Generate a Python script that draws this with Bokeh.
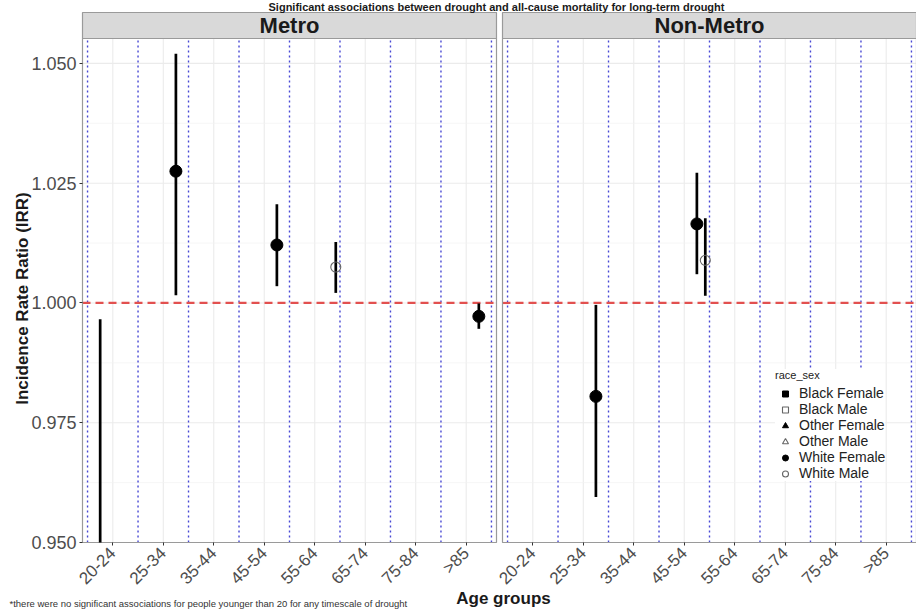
import math
from bokeh.plotting import figure
from bokeh.models import (Range1d, FixedTicker, NumeralTickFormatter, CustomJSTickFormatter,
                          Label, Legend, LegendItem, ColumnDataSource)
from bokeh.embed import file_html
from bokeh.resources import INLINE

# ---------------- data ----------------
age_groups = ["20-24", "25-34", "35-44", "45-54", "55-64", "65-74", "75-84", ">85"]
regions = ["Metro", "Non-Metro"]
race_sex_levels = ["Black Female", "Black Male", "Other Female", "Other Male",
                   "White Female", "White Male"]

pt_region = ["Metro", "Metro", "Metro", "Metro", "Metro",
             "Non-Metro", "Non-Metro", "Non-Metro"]
pt_age = ["20-24", "25-34", "45-54", "55-64", ">85",
          "25-34", "45-54", "45-54"]
pt_group = ["Black Male", "White Female", "White Female", "White Male", "White Female",
            "White Female", "White Female", "White Male"]
pt_irr = [0.935, 1.0275, 1.0121, 1.0075, 0.9972, 0.9805, 1.0165, 1.0089]
pt_lower = [0.875, 1.0016, 1.0035, 1.0021, 0.9946, 0.9595, 1.0060, 1.0015]
pt_upper = [0.9966, 1.0520, 1.0206, 1.0127, 0.9999, 0.9996, 1.0272, 1.0177]

y_ticks = [0.950, 0.975, 1.000, 1.025, 1.050]
ref_line = 1.0

title_text = "Significant associations between drought and all-cause mortality for long-term drought"
footnote_text = "*there were no significant associations for people younger than 20 for any timescale of drought"
x_title = "Age groups"
y_title = "Incidence Rate Ratio (IRR)"
legend_title = "race_sex"

# ---------------- layout (pixels of the 916 x 611 canvas) ----------------
W, H = 916, 611
PANEL_LEFT = 82
PANEL_TOP, PANEL_BOTTOM = 38, 542
STRIP_TOP = 12
GAP_PX = 6

n_cat = len(age_groups)
x_lo = 0.4
span = n_cat + 0.2
px_per_unit = (W - PANEL_LEFT - GAP_PX) / (2 * span)
gap_u = GAP_PX / px_per_unit
offsets = [0.0, span + gap_u]
x_hi = x_lo + 2 * span + gap_u
x_min = x_lo - PANEL_LEFT / px_per_unit


def px_x(px):
    return x_min + px / px_per_unit


y_lo = 0.950
y_panel_top = 1.0552
y_per_px = (y_panel_top - y_lo) / (PANEL_BOTTOM - PANEL_TOP)
y_min = y_lo - (H - PANEL_BOTTOM) * y_per_px
y_max = y_panel_top + PANEL_TOP * y_per_px


def px_y(py):
    return y_max - py * y_per_px


y_strip_top = px_y(STRIP_TOP)

dodge_w = 1.0
n_grp = len(race_sex_levels)

FONT = "Liberation Sans"

p = figure(width=W, height=H, x_range=Range1d(x_min, x_hi), y_range=Range1d(y_min, y_max),
           min_border=0, output_backend="svg", toolbar_location=None)
p.outline_line_color = None
p.xgrid.visible = False
p.ygrid.visible = False

minor_y = [(a + b) / 2 for a, b in zip(y_ticks[:-1], y_ticks[1:])]

for off, reg in zip(offsets, regions):
    left, right = x_lo + off, x_lo + span + off
    # grid
    cx = [i + 1 + off for i in range(n_cat)]
    p.segment(x0=cx, y0=[y_lo] * n_cat, x1=cx, y1=[y_panel_top] * n_cat,
              line_color="#ebebeb", line_width=1.1)
    p.segment(x0=[left] * len(minor_y), y0=minor_y, x1=[right] * len(minor_y), y1=minor_y,
              line_color="#f2f2f2", line_width=0.7)
    p.segment(x0=[left] * len(y_ticks), y0=y_ticks, x1=[right] * len(y_ticks), y1=y_ticks,
              line_color="#ebebeb", line_width=1.1)
    # blue dotted separators
    bx = [i + 0.5 + off for i in range(n_cat + 1)]
    p.segment(x0=bx, y0=[y_lo] * len(bx), x1=bx, y1=[y_panel_top] * len(bx),
              line_color="#4848d4", line_width=1.4, line_dash="2 3")
    # reference line
    p.segment(x0=[left], y0=[ref_line], x1=[right], y1=[ref_line],
              line_color="#e2504f", line_width=2.2, line_dash="8 5")
    # panel border and strip
    p.quad(left=[left], right=[right], bottom=[y_lo], top=[y_panel_top],
           fill_color=None, line_color="#9a9a9a", line_width=1.2)
    p.quad(left=[left], right=[right], bottom=[y_panel_top], top=[y_strip_top],
           fill_color="#d9d9d9", line_color="#9a9a9a", line_width=1.2)
    p.add_layout(Label(x=(left + right) / 2, y=(y_panel_top + y_strip_top) / 2, text=reg,
                       text_align="center", text_baseline="middle",
                       text_font=FONT, text_font_style="bold",
                       text_font_size="22px", text_color="#1a1a1a"))

# positions of points (dodged by race_sex)
xs = []
for reg, age, grp in zip(pt_region, pt_age, pt_group):
    k = race_sex_levels.index(grp)
    base = age_groups.index(age) + 1 + offsets[regions.index(reg)]
    xs.append(base + (k - (n_grp - 1) / 2) * dodge_w / n_grp)

# ranges are clipped to the panel limits (as coord_cartesian does)
seg_lo = [max(v, y_lo) for v in pt_lower]
seg_hi = [min(v, y_panel_top) for v in pt_upper]
p.segment(x0=xs, y0=seg_lo, x1=xs, y1=seg_hi, line_color="black", line_width=2.7)

marker_spec = {
    "Black Female": ("square", True),
    "Black Male": ("square", False),
    "Other Female": ("triangle", True),
    "Other Male": ("triangle", False),
    "White Female": ("circle", True),
    "White Male": ("circle", False),
}

items = []
for grp in race_sex_levels:
    idx = [i for i, g in enumerate(pt_group) if g == grp and y_lo <= pt_irr[i] <= y_panel_top]
    gx = [xs[i] for i in idx]
    gy = [pt_irr[i] for i in idx]
    if not idx:                       # nothing visible in the panels: legend only
        gx, gy = [float("nan")], [float("nan")]
    src = ColumnDataSource(dict(x=gx, y=gy))
    mk, filled = marker_spec[grp]
    if filled:
        r = p.scatter("x", "y", source=src, marker=mk, size=12, fill_color="black",
                      line_color="black")
    else:
        r = p.scatter("x", "y", source=src, marker=mk, size=10, fill_color=None,
                      line_color="#666666", line_width=1.1)
    items.append(LegendItem(label=grp, renderers=[r]))

legend = Legend(items=items, location=(775, H - 481), title=legend_title,
                title_text_font=FONT, title_text_font_size="11px", title_text_color="#222222",
                title_text_font_style="normal", title_standoff=4,
                label_text_font=FONT, label_text_font_size="14px", label_text_color="#222222",
                glyph_width=20, glyph_height=15, label_height=15, spacing=0,
                label_standoff=4, padding=2, margin=0,
                border_line_color=None, background_fill_color="white", background_fill_alpha=1.0)
p.add_layout(legend)

# axes, fixed at the panel edges
p.yaxis.fixed_location = x_lo
p.yaxis.ticker = FixedTicker(ticks=y_ticks)
p.yaxis.formatter = NumeralTickFormatter(format="0.000")
p.yaxis.axis_line_color = None
p.yaxis.major_tick_out = 3
p.yaxis.major_tick_in = 0
p.yaxis.minor_tick_out = 0
p.yaxis.minor_tick_in = 0
p.yaxis.major_tick_line_color = "#333333"
p.yaxis.major_label_text_font = FONT
p.yaxis.major_label_text_font_size = "18px"
p.yaxis.major_label_text_color = "#4d4d4d"
p.yaxis.major_label_standoff = 3

x_ticks = [i + 1 + off for off in offsets for i in range(n_cat)]
p.xaxis.fixed_location = y_lo
p.xaxis.ticker = FixedTicker(ticks=x_ticks)
p.xaxis.formatter = CustomJSTickFormatter(
    args=dict(labels=age_groups, off=offsets[1], n=n_cat),
    code="const t = tick > n + 0.5 ? tick - off : tick; return labels[Math.round(t) - 1];")
p.xaxis.major_label_orientation = math.pi / 4
p.xaxis.axis_line_color = None
p.xaxis.major_tick_out = 3
p.xaxis.major_tick_in = 0
p.xaxis.minor_tick_out = 0
p.xaxis.minor_tick_in = 0
p.xaxis.major_tick_line_color = "#333333"
p.xaxis.major_label_text_font = FONT
p.xaxis.major_label_text_font_size = "17px"
p.xaxis.major_label_text_color = "#4d4d4d"
p.xaxis.major_label_standoff = 5

# titles and notes
p.add_layout(Label(x=px_x(22), y=px_y(298), text=y_title, angle=math.pi / 2,
                   text_align="center", text_baseline="middle",
                   text_font=FONT, text_font_style="bold", text_font_size="17px",
                   text_color="#1a1a1a"))
p.add_layout(Label(x=px_x(503), y=px_y(598), text=x_title,
                   text_align="center", text_baseline="middle",
                   text_font=FONT, text_font_style="bold", text_font_size="17px",
                   text_color="#1a1a1a"))
p.add_layout(Label(x=px_x(9), y=px_y(603), text=footnote_text,
                   text_align="left", text_baseline="middle",
                   text_font=FONT, text_font_size="9.5px", text_color="#333333"))
p.add_layout(Label(x=px_x(496), y=px_y(6), text=title_text,
                   text_align="center", text_baseline="middle",
                   text_font=FONT, text_font_style="bold",
                   text_font_size="11px", text_color="#1a1a1a"))

open("out.html", "w").write(file_html(p, INLINE))
